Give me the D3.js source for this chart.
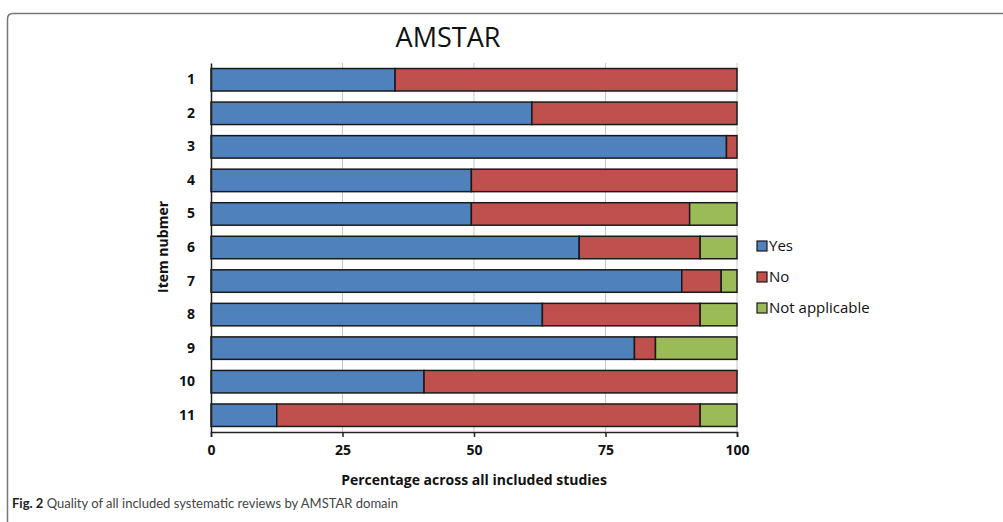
<!DOCTYPE html>
<html>
<head>
<meta charset="utf-8">
<script src="https://cdn.jsdelivr.net/npm/d3@7"></script>
<style>
  body { margin: 0; background: #fff; }
  svg { display: block; }
  text { font-family: "Open Sans", "DejaVu Sans", sans-serif; fill: #111; }
</style>
</head>
<body>
<svg id="chart" width="1003" height="522"></svg>
<script>
const items = ['1', '2', '3', '4', '5', '6', '7', '8', '9', '10', '11'];
const yes = [35, 61, 98, 49.5, 49.5, 70, 89.5, 63, 80.5, 40.5, 12.5];
const no = [65, 39, 2, 50.5, 41.5, 23, 7.5, 30, 4, 59.5, 80.5];
const notApplicable = [0, 0, 0, 0, 9, 7, 3, 7, 15.5, 0, 7];
const seriesNames = ['Yes', 'No', 'Not applicable'];
const xTicks = [0, 25, 50, 75, 100];
const colors = ['#4f81bd', '#c0504d', '#9bbb59'];

const svg = d3.select('#chart');

// figure frame (runs off the right and bottom edges)
svg.append('path')
  .attr('d', 'M7.5,522 L7.5,19 Q7.5,13.5 13,13.5 L1010,13.5')
  .attr('fill', 'none')
  .attr('stroke', '#777')
  .attr('stroke-width', 1.5);

const x = d3.scaleLinear().domain([0, 100]).range([211, 737]);
const y = d3.scaleBand().domain(items).range([63, 432])
  .paddingInner(0.33).paddingOuter(0.165);

const rows = items.map((d, i) => ({item: d, Yes: yes[i], No: no[i], 'Not applicable': notApplicable[i]}));
const stacked = d3.stack().keys(seriesNames)(rows);

// gridlines
svg.append('g')
  .selectAll('line')
  .data(xTicks.slice(1))
  .join('line')
  .attr('x1', d => x(d)).attr('x2', d => x(d))
  .attr('y1', 63).attr('y2', 432)
  .attr('stroke', '#c8c8c8')
  .attr('stroke-width', 1);

// bars
svg.append('g')
  .selectAll('g')
  .data(stacked)
  .join('g')
  .attr('fill', (d, i) => colors[i])
  .selectAll('rect')
  .data(d => d.filter(s => s[1] - s[0] > 0))
  .join('rect')
  .attr('x', d => x(d[0]))
  .attr('width', d => x(d[1]) - x(d[0]))
  .attr('y', d => y(d.data.item))
  .attr('height', y.bandwidth())
  .attr('stroke', '#1a1a1a')
  .attr('stroke-width', 1.5);

// x axis
const xAxis = svg.append('g')
  .attr('transform', 'translate(0,432)')
  .call(d3.axisBottom(x).tickValues(xTicks).tickSize(5).tickPadding(8));
xAxis.select('.domain').attr('stroke', '#222').attr('stroke-width', 1.5);
xAxis.selectAll('.tick line').attr('stroke', '#222').attr('stroke-width', 1.5);
xAxis.selectAll('text')
  .style('font-family', '"Open Sans", sans-serif')
  .style('font-size', '14px').style('font-weight', 'bold').attr('fill', '#111');

// y axis
const yAxis = svg.append('g')
  .attr('transform', 'translate(211,0)')
  .call(d3.axisLeft(y).tickSize(0).tickPadding(16));
yAxis.select('.domain').attr('stroke', '#222').attr('stroke-width', 1.5);
yAxis.selectAll('text')
  .style('font-family', '"Open Sans", sans-serif')
  .style('font-size', '14px').style('font-weight', 'bold').attr('fill', '#111');

// title
svg.append('text')
  .attr('x', 448).attr('y', 47)
  .attr('text-anchor', 'middle')
  .style('font-size', '27px')
  .text('AMSTAR');

// axis titles
svg.append('text')
  .attr('x', 474).attr('y', 485)
  .attr('text-anchor', 'middle')
  .style('font-size', '14px').style('font-weight', 'bold')
  .text('Percentage across all included studies');

svg.append('text')
  .attr('transform', 'translate(168,247) rotate(-90)')
  .attr('text-anchor', 'middle')
  .style('font-size', '14px').style('font-weight', 'bold')
  .text('Item nubmer');

// legend
const legend = svg.append('g')
  .selectAll('g')
  .data(seriesNames)
  .join('g')
  .attr('transform', (d, i) => `translate(757,${246 + i * 31})`);
legend.append('rect')
  .attr('x', 0).attr('y', -5)
  .attr('width', 10).attr('height', 10)
  .attr('fill', (d, i) => colors[i])
  .attr('stroke', '#1a1a1a').attr('stroke-width', 1.2);
legend.append('text')
  .attr('x', 12).attr('dy', '0.35em')
  .style('font-size', '15px')
  .text(d => d);

// caption
const caption = svg.append('text')
  .attr('x', 12).attr('y', 508)
  .style('font-family', 'Lato, "Open Sans", sans-serif')
  .style('font-size', '13px');
caption.append('tspan').style('font-weight', 'bold').attr('fill', '#222').text('Fig. 2');
caption.append('tspan').attr('fill', '#444').text(' Quality of all included systematic reviews by AMSTAR domain');
</script>
</body>
</html>
